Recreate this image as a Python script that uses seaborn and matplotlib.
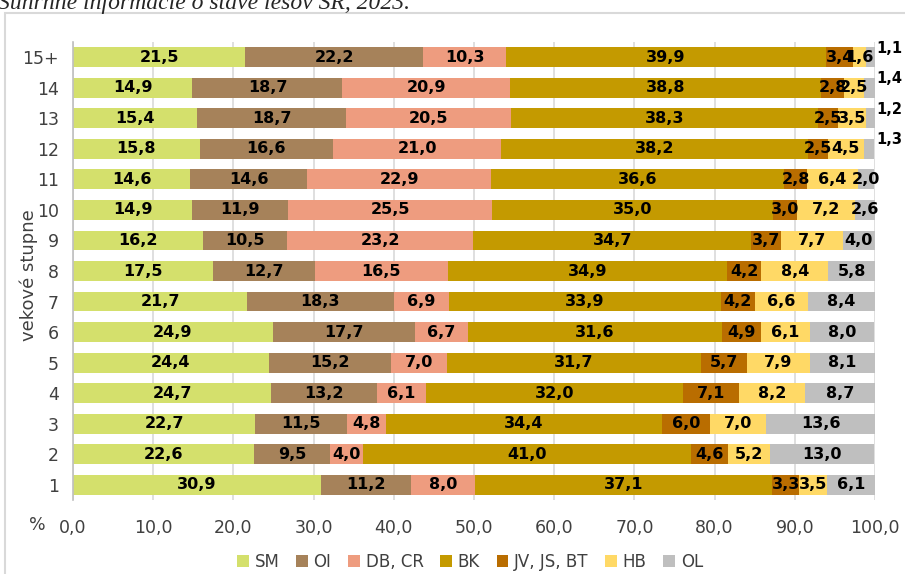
import matplotlib
matplotlib.use("Agg")
import matplotlib.pyplot as plt
import numpy as np
import pandas as pd
import seaborn as sns
from matplotlib.patches import Patch, Rectangle

# vekove stupne, zhora nadol
stupne = ["15+", "14", "13", "12", "11", "10", "9", "8", "7", "6", "5", "4", "3", "2", "1"]

# podiel drevin v % pre kazdy vekovy stupen
sm = [21.5, 14.9, 15.4, 15.8, 14.6, 14.9, 16.2, 17.5, 21.7, 24.9, 24.4, 24.7, 22.7, 22.6, 30.9]
oi = [22.2, 18.7, 18.7, 16.6, 14.6, 11.9, 10.5, 12.7, 18.3, 17.7, 15.2, 13.2, 11.5, 9.5, 11.2]
db_cr = [10.3, 20.9, 20.5, 21.0, 22.9, 25.5, 23.2, 16.5, 6.9, 6.7, 7.0, 6.1, 4.8, 4.0, 8.0]
bk = [39.9, 38.8, 38.3, 38.2, 36.6, 35.0, 34.7, 34.9, 33.9, 31.6, 31.7, 32.0, 34.4, 41.0, 37.1]
jv_js_bt = [3.4, 2.8, 2.5, 2.5, 2.8, 3.0, 3.7, 4.2, 4.2, 4.9, 5.7, 7.1, 6.0, 4.6, 3.3]
hb = [1.6, 2.5, 3.5, 4.5, 6.4, 7.2, 7.7, 8.4, 6.6, 6.1, 7.9, 8.2, 7.0, 5.2, 3.5]
ol = [1.1, 1.4, 1.2, 1.3, 2.0, 2.6, 4.0, 5.8, 8.4, 8.0, 8.1, 8.7, 13.6, 13.0, 6.1]

druhy = ["SM", "OI", "DB, CR", "BK", "JV, JS, BT", "HB", "OL"]
farby = ["#D4E06C", "#A6825A", "#EE9C7F", "#C49A00", "#B96D00", "#FFD966", "#BFBFBF"]

tab = pd.DataFrame({"stupen": stupne, "SM": sm, "OI": oi, "DB, CR": db_cr,
                    "BK": bk, "JV, JS, BT": jv_js_bt, "HB": hb, "OL": ol})
kum = tab[druhy].cumsum(axis=1)

sns.set_theme(style="white")
plt.rcParams["font.family"] = ["DejaVu Sans"]

fig = plt.figure(figsize=(9.05, 5.74), dpi=100)
ax = fig.add_axes([73 / 905, 1 - 500 / 574, (875 - 73) / 905, (500 - 42) / 574])

# skladany graf: kumulativne sucty od najvacsieho po najmensi
for druh, farba in reversed(list(zip(druhy, farby))):
    sns.barplot(x=kum[druh], y=tab["stupen"], order=stupne, orient="h", color=farba,
                saturation=1, width=0.65, linewidth=0, ax=ax)

# popisky hodnot
for i in range(len(stupne)):
    zac = 0
    for druh in druhy:
        v = tab.loc[i, druh]
        txt = f"{v:.1f}".replace(".", ",")
        if druh == "OL" and v < 1.5:
            ax.text(100.2, i - 0.3, txt, ha="left", va="center", fontsize=10.5,
                    fontweight="bold", color="black", clip_on=False)
        else:
            ax.text(zac + v / 2, i, txt, ha="center", va="center", fontsize=11.5,
                    fontweight="bold", color="black")
        zac += v

ax.set_xlim(0, 100)
ax.set_xticks(np.arange(0, 101, 10))
ax.set_xticklabels([f"{t:.1f}".replace(".", ",") for t in np.arange(0, 101, 10)])
ax.tick_params(axis="x", length=0, pad=14, labelsize=12.5, labelcolor="#404040")
ax.tick_params(axis="y", length=0, pad=10, labelsize=12.5, labelcolor="#404040")
ax.grid(axis="x", color="#D9D9D9", linewidth=1.2)
ax.set_axisbelow(True)
for s in ["top", "right", "bottom"]:
    ax.spines[s].set_visible(False)
ax.spines["left"].set_color("#BFBFBF")
ax.spines["left"].set_linewidth(1.2)

ax.set_xlabel("")
ax.set_ylabel("vekové stupne", fontsize=13, color="#404040")
ax.yaxis.set_label_coords(-0.044, 0.49)
ax.text(-0.044, -0.055, "%", transform=ax.transAxes, ha="center", va="center",
        fontsize=12.5, color="#404040")

ruky = [Patch(facecolor=f, edgecolor="none") for f in farby]
fig.legend(ruky, druhy, loc="center", bbox_to_anchor=(470 / 905, 1 - 562 / 574), ncol=7,
           frameon=False, fontsize=12, handlelength=0.7, handleheight=0.7,
           handletextpad=0.35, columnspacing=1.0, labelcolor="#404040")

# ramik okolo grafu a orezany nadpis
fig.add_artist(Rectangle((5 / 905, -0.1), 1.2, 1 - 13 / 574 + 0.1, transform=fig.transFigure,
                         fill=False, edgecolor="#D9D9D9", linewidth=1.5))
fig.text(-0.002, 1 - 9 / 574, "Súhrnné informácie o stave lesov SR, 2023.", ha="left",
         va="baseline", family="Liberation Serif", style="italic", fontsize=17)

fig.savefig("out.png", dpi=100)
